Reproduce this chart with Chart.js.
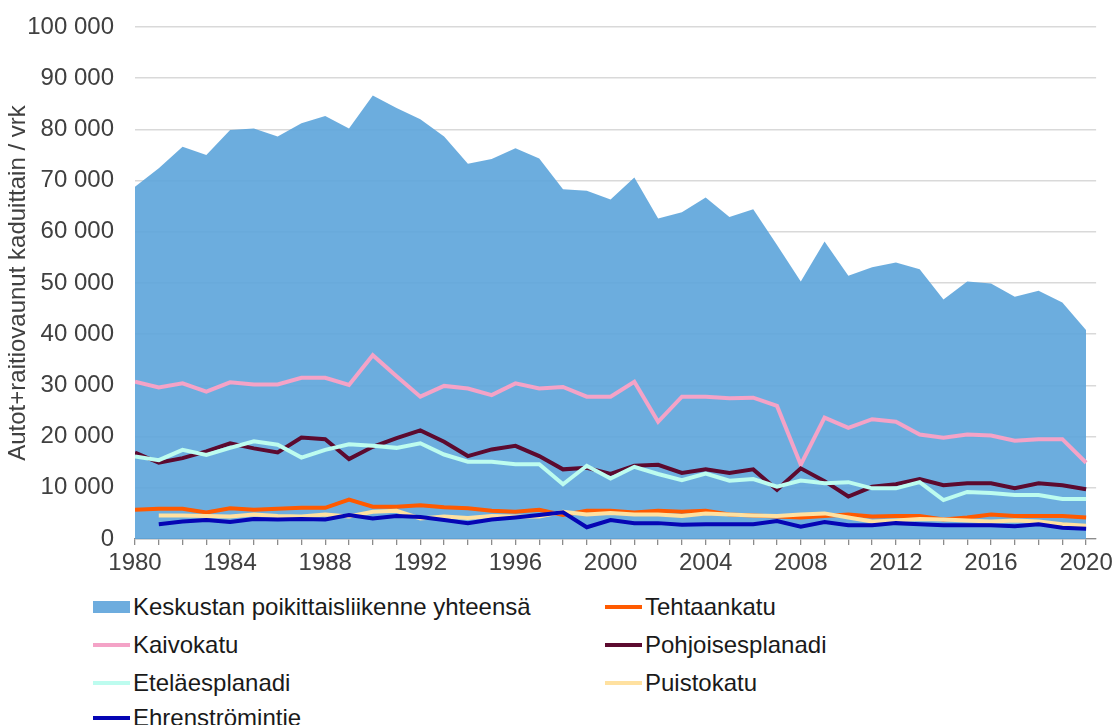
<!DOCTYPE html>
<html lang="fi">
<head>
  <meta charset="UTF-8">
  <title>Keskustan poikittaisliikenne</title>
  <script src="https://cdn.jsdelivr.net/npm/chart.js"></script>
  <style>
    body { margin: 0; background: #fff; font-family: "Liberation Sans", Arial, sans-serif; }
    .wrap { position: relative; width: 1117px; height: 725px; }
    .chart { position: absolute; left: 0; top: 0; width: 1117px; height: 585px; }
    .legend-item { position: absolute; height: 30px; display: flex; align-items: center; font-size: 24px; color: #1a1a1a; white-space: nowrap; }
    .legend-item .mark { width: 37px; margin-right: 3px; }
  </style>
</head>
<body>
  <div class="wrap">
    <div class="chart"><canvas id="myChart"></canvas></div>
    <div id="legend"></div>
  </div>
  <script>
    const years = [1980,1981,1982,1983,1984,1985,1986,1987,1988,1989,1990,1991,1992,1993,1994,1995,1996,1997,1998,1999,2000,2001,2002,2003,2004,2005,2006,2007,2008,2009,2010,2011,2012,2013,2014,2015,2016,2017,2018,2019,2020]

    const yhteensa = [68800,72400,76600,75000,79900,80200,78600,81200,82600,80200,86600,84200,82000,78600,73300,74200,76300,74300,68300,68000,66300,70600,62600,63800,66700,62900,64400,57400,50300,58100,51400,53100,54000,52700,46800,50300,49900,47300,48500,46200,40800]
    const tehtaankatu = [5700,5900,5900,5200,6000,5700,5900,6100,6100,7700,6300,6300,6600,6200,6000,5500,5300,5700,4700,5500,5500,5200,5500,5300,5500,4800,4600,4400,4200,4500,4800,4400,4500,4500,3800,4200,4800,4500,4500,4500,4200]
    const kaivokatu = [30700,29600,30400,28800,30600,30200,30200,31500,31500,30100,35900,31800,27800,29900,29400,28100,30400,29400,29700,27800,27800,30700,22900,27800,27800,27500,27600,26000,14500,23700,21700,23400,22900,20400,19800,20400,20200,19200,19500,19500,14900]
    const pohjoisesplanadi = [16900,14900,15800,17100,18700,17700,16900,19800,19500,15600,18000,19700,21200,19000,16200,17500,18200,16200,13600,13900,12700,14300,14500,12900,13600,12900,13600,9600,13800,11300,8300,10200,10700,11700,10500,10900,10900,9900,10900,10500,9700]
    const etelaesplanadi = [16100,15400,17400,16400,17800,19100,18400,15900,17400,18500,18200,17800,18700,16500,15100,15100,14600,14600,10700,14300,11800,14100,12700,11500,12800,11400,11700,10200,11400,10900,11100,9900,9900,11100,7600,9200,9000,8600,8600,7800,7800]
    const puistokatu = [null,4600,4600,4500,4400,4800,4500,4400,4800,4400,5300,5500,4000,4400,4100,4500,4400,4400,5300,4800,5100,4800,4800,4500,5000,4800,4600,4500,4800,5000,4200,3400,3600,3900,3800,3600,3400,3600,3400,2900,2600]
    const ehrenstromintie = [null,2900,3400,3700,3300,3900,3800,3900,3800,4700,4000,4500,4300,3700,3100,3800,4200,4700,5200,2300,3700,3100,3100,2800,2900,2900,2900,3500,2400,3300,2700,2700,3100,2900,2700,2700,2700,2500,2900,2200,2000]

    const yTicks = [0,10000,20000,30000,40000,50000,60000,70000,80000,90000,100000]
    const xLabelYears = [1980,1984,1988,1992,1996,2000,2004,2008,2012,2016,2020]

    const series = [
      { label: 'Keskustan poikittaisliikenne yhteensä', data: yhteensa, color: '#6dacde', area: true },
      { label: 'Tehtaankatu', data: tehtaankatu, color: '#ff5a00' },
      { label: 'Kaivokatu', data: kaivokatu, color: '#f4a3c7' },
      { label: 'Pohjoisesplanadi', data: pohjoisesplanadi, color: '#5c0a2f' },
      { label: 'Eteläesplanadi', data: etelaesplanadi, color: '#bdfcef' },
      { label: 'Puistokatu', data: puistokatu, color: '#ffe1a0' },
      { label: 'Ehrenströmintie', data: ehrenstromintie, color: '#0505b4' }
    ]

    const fmt = v => String(v).replace(/\B(?=(\d{3})+(?!\d))/g, ' ')

    const datasets = series.map((s, i) => ({
      label: s.label,
      data: s.data,
      order: 10 - i,
      borderColor: s.color,
      backgroundColor: s.area ? 'rgba(92,164,218,0.9)' : s.color,
      borderWidth: s.area ? 0 : 4,
      fill: s.area ? 'origin' : false,
      pointRadius: 0,
      tension: 0,
      spanGaps: false
    }))

    const ctx = document.getElementById('myChart')
    new Chart(ctx, {
      type: 'line',
      data: { labels: years, datasets: datasets },
      options: {
        responsive: true,
        maintainAspectRatio: false,
        animation: false,
        layout: { padding: { top: 27, right: 18, left: 0, bottom: 0 } },
        plugins: { legend: { display: false }, tooltip: { enabled: false } },
        scales: {
          x: {
            type: 'linear',
            min: 1980,
            max: 2020.42,
            afterFit: s => { s.height = 46 },
            grid: { drawOnChartArea: false, drawTicks: true, tickLength: 6, color: '#8c8c8c', lineWidth: 1.3 },
            border: { color: '#8c8c8c', width: 1.3 },
            ticks: {
              stepSize: 1,
              includeBounds: false,
              autoSkip: false,
              maxRotation: 0,
              padding: 4,
              color: '#404040',
              font: { family: 'Liberation Sans', size: 24 },
              callback: v => xLabelYears.includes(v) ? String(v) : ''
            }
          },
          y: {
            min: 0,
            max: 100000,
            afterFit: s => { s.width = 135; s.paddingTop = 0; s.paddingBottom = 0 },
            afterBuildTicks: s => { s.ticks = yTicks.map(v => ({ value: v })) },
            grid: { drawTicks: false, color: '#d9d9d9', lineWidth: 1.5 },
            border: { display: false },
            ticks: {
              padding: 21,
              color: '#404040',
              font: { family: 'Liberation Sans', size: 24 },
              callback: v => fmt(v)
            },
            title: {
              display: true,
              text: 'Autot+raitiovaunut kaduittain / vrk',
              color: '#404040',
              font: { family: 'Liberation Sans', size: 24 },
              padding: { top: 4, bottom: 0 }
            }
          }
        }
      }
    })

    // legend in two columns like the original
    const legendEl = document.getElementById('legend')
    const colX = [93, 605]
    const rowY = [607, 645, 683, 718]
    series.forEach((s, i) => {
      const item = document.createElement('div')
      item.className = 'legend-item'
      item.style.left = colX[i % 2] + 'px'
      item.style.top = (rowY[Math.floor(i / 2)] - 15) + 'px'
      const mark = document.createElement('span')
      mark.className = 'mark'
      mark.style.background = s.color
      mark.style.height = s.area ? '12px' : '4px'
      item.appendChild(mark)
      item.appendChild(document.createTextNode(s.label))
      legendEl.appendChild(item)
    })
  </script>
</body>
</html>
